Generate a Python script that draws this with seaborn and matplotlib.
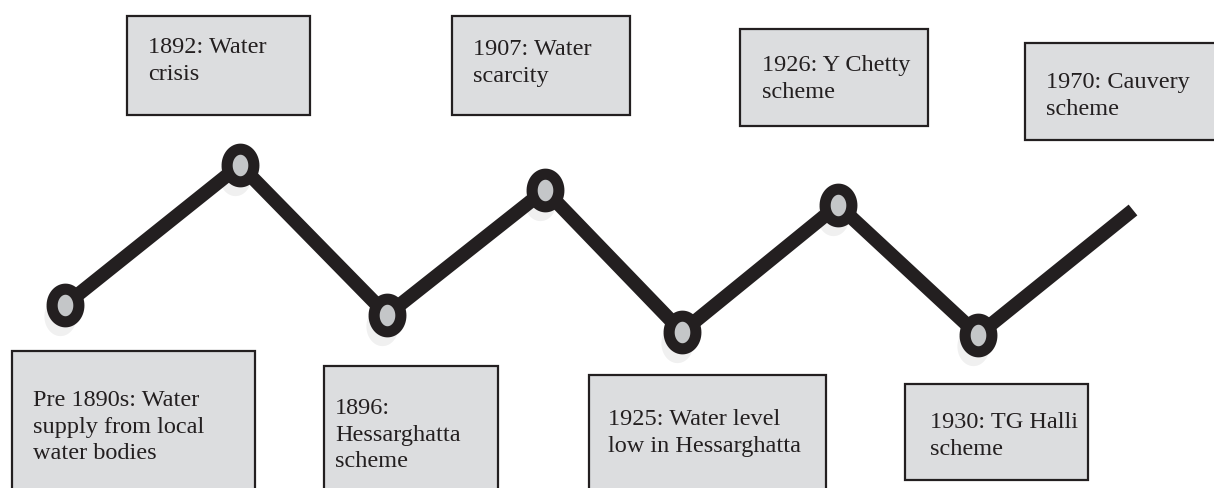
import numpy as np
import pandas as pd
import matplotlib.pyplot as plt
from matplotlib.patches import Rectangle
from matplotlib.path import Path
import seaborn as sns

# zigzag nodes (diagram units = pixels, y grows downward)
node_x = [65, 240, 387, 545, 682, 838, 978, 1133]
node_y = [305, 165, 315, 190, 332, 205, 335, 210]
has_marker = [1, 1, 1, 1, 1, 1, 1, 0]

# event labels
labels = ["1892: Water\ncrisis",
          "1907: Water\nscarcity",
          "1926: Y Chetty\nscheme",
          "1970: Cauvery\nscheme",
          "Pre 1890s: Water\nsupply from local\nwater bodies",
          "1896:\nHessarghatta\nscheme",
          "1925: Water level\nlow in Hessarghatta",
          "1930: TG Halli\nscheme"]
box_x0 = [127, 452, 740, 1025, 12, 324, 589, 905]
box_y0 = [16, 16, 29, 43, 351, 366, 375, 384]
box_x1 = [310, 630, 928, 1216, 255, 498, 826, 1088]
box_y1 = [115, 115, 126, 140, 492, 492, 492, 480]
text_x = [148, 473, 762, 1046, 33, 335, 608, 930]
text_y = [61, 63, 79, 96, 427, 435, 433, 436]

df = pd.DataFrame({"x": node_x, "y": node_y, "m": has_marker})
pts = df[df["m"] == 1]

ink = "#231f20"
box_fill = "#dcdddf"
dot_fill = "#c4c6c8"

sns.set_style("white")
plt.rcParams["font.family"] = ["Liberation Serif", "DejaVu Serif"]

fig = plt.figure(figsize=(12.14, 4.88), dpi=100)
ax = fig.add_axes([0, 0, 1, 1])

# slightly oval node marker
t = np.linspace(0, 2 * np.pi, 60)
oval = Path(np.column_stack([np.cos(t), 1.22 * np.sin(t)]), closed=True)

# soft shadow under the nodes
ax.scatter(pts["x"] - 5, pts["y"] + 11, s=800, marker=oval, color="#000000",
           alpha=0.06, linewidths=0, zorder=1)

sns.lineplot(data=df, x="x", y="y", sort=False, ax=ax, color=ink,
             linewidth=10, solid_capstyle="butt", solid_joinstyle="miter",
             zorder=2)
sns.scatterplot(data=pts, x="x", y="y", ax=ax, marker=oval, s=23.5 ** 2,
                color=dot_fill, edgecolor=ink, linewidth=8, zorder=3)

for i in range(len(labels)):
    ax.add_patch(Rectangle((box_x0[i], box_y0[i]), box_x1[i] - box_x0[i],
                           box_y1[i] - box_y0[i], facecolor=box_fill,
                           edgecolor=ink, linewidth=1.6, zorder=4))
    ax.text(text_x[i], text_y[i], labels[i], ha="left", va="center",
            fontsize=17.5, color=ink, linespacing=1.35, zorder=5)

ax.set_xlim(0, 1214)
ax.set_ylim(488, 0)
ax.axis("off")

fig.savefig("out.png", dpi=100)
